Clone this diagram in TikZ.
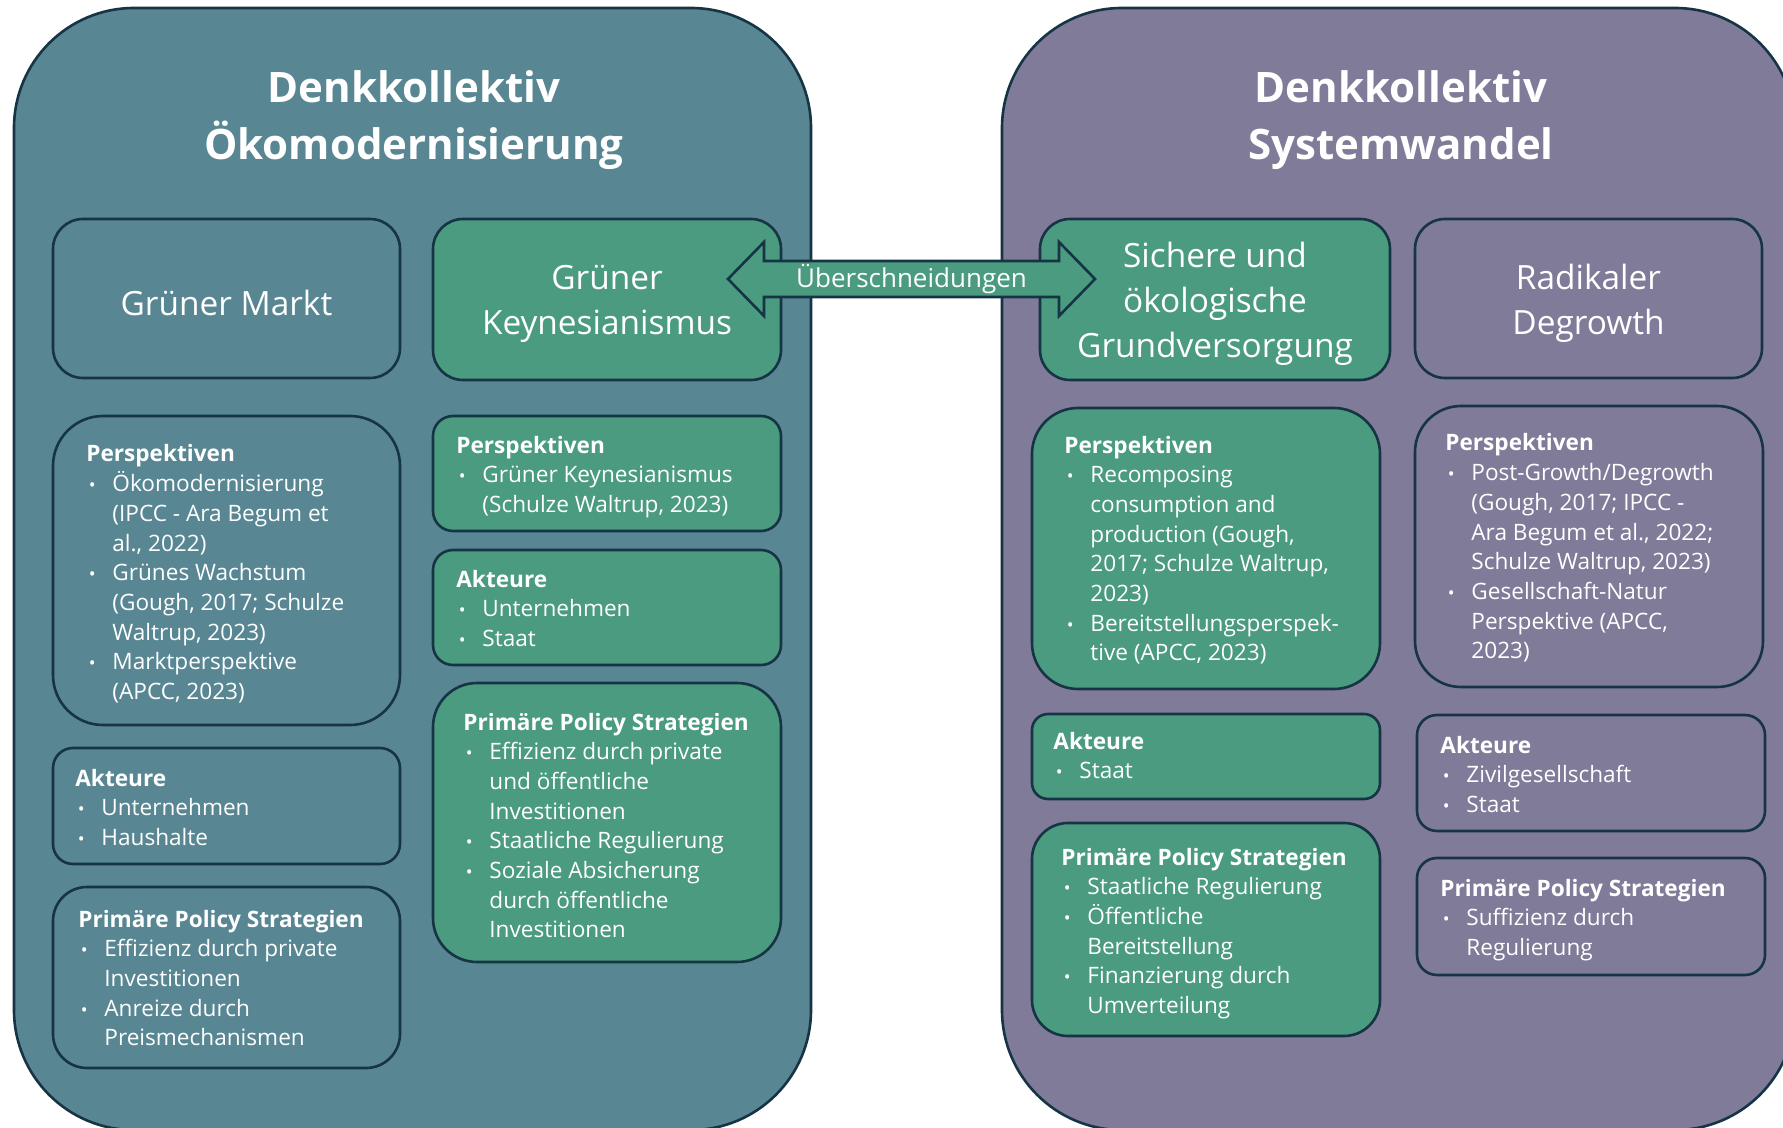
\documentclass[tikz,border=0pt]{standalone}
\usepackage{fontspec}
\setmainfont{Open Sans}
\usetikzlibrary{calc,fit}
\definecolor{cTeal}{HTML}{588793}
\definecolor{cGreen}{HTML}{4A9B80}
\definecolor{cPurple}{HTML}{7F7B99}
\definecolor{cLine}{HTML}{163444}
\newcommand\tbBlk[1]{\vtop{\fontsize{11.3}{14.85}\selectfont\lineskiplimit=-\maxdimen #1}}
\newcommand\tbHd[1]{\hbox{\bfseries #1}}
\newcommand\tbBi[1]{\hbox{\makebox[13pt][l]{\hspace{1.2pt}\scalebox{0.8}{•}}#1}}
\newcommand\tbCi[1]{\hbox{\hspace*{13pt}#1}}
\begin{document}
\begin{tikzpicture}[x=0.5pt,y=-0.5pt,
  bx/.style={draw=cLine, line width=1.3pt, inner sep=0pt, outer sep=0pt},
  txt/.style={anchor=base west, inner sep=0pt, text=white},
  head/.style={align=center, inner sep=0pt, text=white, font=\fontsize{16.7}{22.6}\selectfont, yshift=-2.3pt},
  ttl/.style={align=center, inner sep=0pt, text=white, font=\bfseries\fontsize{21}{28.5}\selectfont},
]
\clip (0,0) rectangle (1783,1128);
\fill[white] (0,0) rectangle (1783,1128);
% big boxes
\node[bx, fill=cTeal, rounded corners=60pt, fit={(14,8)(811,1130)}] (left) {};
\node[bx, fill=cPurple, rounded corners=60pt, fit={(1002,8)(1795,1130)}] (right) {};
% head boxes
\node[bx, fill=cTeal, rounded corners=15pt, fit={(53,219)(400,378)}] (gm) {};
\node[bx, fill=cGreen, rounded corners=15pt, fit={(433,219)(781,380)}] (gk) {};
\node[bx, fill=cGreen, rounded corners=15pt, fit={(1040,219)(1390,380)}] (sg) {};
\node[bx, fill=cPurple, rounded corners=15pt, fit={(1415,219)(1762,378)}] (rd) {};
% column 1
\node[bx, fill=cTeal, rounded corners=25pt, fit={(53,416)(400,725)}] (p1) {};
\node[bx, fill=cTeal, rounded corners=10pt, fit={(53,748)(400,864)}] (a1) {};
\node[bx, fill=cTeal, rounded corners=17pt, fit={(53,887)(400,1068)}] (s1) {};
% column 2
\node[bx, fill=cGreen, rounded corners=10pt, fit={(433,416)(781,531)}] (p2) {};
\node[bx, fill=cGreen, rounded corners=10pt, fit={(433,550)(781,665)}] (a2) {};
\node[bx, fill=cGreen, rounded corners=22pt, fit={(433,683)(781,962)}] (s2) {};
% column 3
\node[bx, fill=cGreen, rounded corners=23pt, fit={(1032,408)(1380,689)}] (p3) {};
\node[bx, fill=cGreen, rounded corners=8pt, fit={(1032,714)(1380,799)}] (a3) {};
\node[bx, fill=cGreen, rounded corners=18pt, fit={(1032,823)(1380,1036)}] (s3) {};
% column 4
\node[bx, fill=cPurple, rounded corners=23pt, fit={(1415,406)(1763,687)}] (p4) {};
\node[bx, fill=cPurple, rounded corners=10pt, fit={(1417,715)(1765,831)}] (a4) {};
\node[bx, fill=cPurple, rounded corners=10pt, fit={(1417,858)(1765,975)}] (s4) {};
% titles
\node[ttl] (t1) at (414,120) {Denkkollektiv\\Ökomodernisierung};
\node[ttl] (t2) at (1401,120) {Denkkollektiv\\Systemwandel};
% head texts
\node[head] (gmt) at (gm.center) {Grüner Markt};
\node[head] (gkt) at (gk.center) {Grüner\\Keynesianismus};
\node[head] (sgt) at (sg.center) {Sichere und\\ökologische\\Grundversorgung};
\node[head] (rdt) at (rd.center) {Radikaler\\Degrowth};
% arrow
\coordinate (aL) at (728,279);
\coordinate (aR) at (1095,279);
\draw[bx, fill=cGreen, line join=miter] (aL) -- ($(aL)+(36,-37)$) -- ($(aL)+(36,-18)$) -- ($(aR)+(-36,-18)$) -- ($(aR)+(-36,-37)$) -- (aR) -- ($(aR)+(-36,37)$) -- ($(aR)+(-36,18)$) -- ($(aL)+(36,18)$) -- ($(aL)+(36,37)$) -- cycle;
\node[inner sep=0pt, text=white, font=\fontsize{13}{15}\selectfont] (ueb) at ($(aL)!0.5!(aR)$) {Überschneidungen};
% text blocks
\node[txt] (p1t) at (86,462) {\tbBlk{\tbHd{Perspektiven}\tbBi{Ökomodernisierung}\tbCi{(IPCC - Ara Begum et}\tbCi{al., 2022)}\tbBi{Grünes Wachstum}\tbCi{(Gough, 2017; Schulze}\tbCi{Waltrup, 2023)}\tbBi{Marktperspektive}\tbCi{(APCC, 2023)}}};
\node[txt] (a1t) at (75,786) {\tbBlk{\tbHd{Akteure}\tbBi{Unternehmen}\tbBi{Haushalte}}};
\node[txt] (s1t) at (78,927) {\tbBlk{\tbHd{Primäre Policy Strategien}\tbBi{Effizienz durch private}\tbCi{Investitionen}\tbBi{Anreize durch}\tbCi{Preismechanismen}}};
\node[txt] (p2t) at (456,453) {\tbBlk{\tbHd{Perspektiven}\tbBi{Grüner Keynesianismus}\tbCi{(Schulze Waltrup, 2023)}}};
\node[txt] (a2t) at (456,587) {\tbBlk{\tbHd{Akteure}\tbBi{Unternehmen}\tbBi{Staat}}};
\node[txt] (s2t) at (463,730) {\tbBlk{\tbHd{Primäre Policy Strategien}\tbBi{Effizienz durch private}\tbCi{und öffentliche}\tbCi{Investitionen}\tbBi{Staatliche Regulierung}\tbBi{Soziale Absicherung}\tbCi{durch öffentliche}\tbCi{Investitionen}}};
\node[txt] (p3t) at (1064,453) {\tbBlk{\tbHd{Perspektiven}\tbBi{Recomposing}\tbCi{consumption and}\tbCi{production (Gough,}\tbCi{2017; Schulze Waltrup,}\tbCi{2023)}\tbBi{Bereitstellungsperspek-}\tbCi{tive (APCC, 2023)}}};
\node[txt] (a3t) at (1053,749) {\tbBlk{\tbHd{Akteure}\tbBi{Staat}}};
\node[txt] (s3t) at (1061,865) {\tbBlk{\tbHd{Primäre Policy Strategien}\tbBi{Staatliche Regulierung}\tbBi{Öffentliche}\tbCi{Bereitstellung}\tbBi{Finanzierung durch}\tbCi{Umverteilung}}};
\node[txt] (p4t) at (1445,451) {\tbBlk{\tbHd{Perspektiven}\tbBi{Post-Growth/Degrowth}\tbCi{(Gough, 2017; IPCC -}\tbCi{Ara Begum et al., 2022;}\tbCi{Schulze Waltrup, 2023)}\tbBi{Gesellschaft-Natur}\tbCi{Perspektive (APCC,}\tbCi{2023)}}};
\node[txt] (a4t) at (1440,753) {\tbBlk{\tbHd{Akteure}\tbBi{Zivilgesellschaft}\tbBi{Staat}}};
\node[txt] (s4t) at (1440,896) {\tbBlk{\tbHd{Primäre Policy Strategien}\tbBi{Suffizienz durch}\tbCi{Regulierung}}};
\end{tikzpicture}
\end{document}
